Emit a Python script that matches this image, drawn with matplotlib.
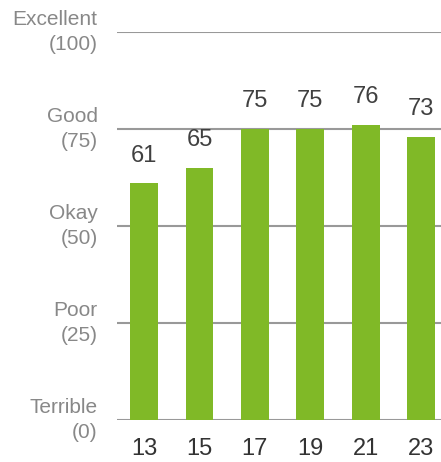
import matplotlib
matplotlib.use("Agg")
import matplotlib.pyplot as plt

# Ratings by period
periods = ["13", "15", "17", "19", "21", "23"]
scores = [61, 65, 75, 75, 76, 73]
scale_ticks = [0, 25, 50, 75, 100]
scale_labels = ["Terrible\n(0)", "Poor\n(25)", "Okay\n(50)", "Good\n(75)", "Excellent\n(100)"]

plt.rcParams["font.family"] = ["Liberation Sans", "DejaVu Sans"]

fig = plt.figure(figsize=(4.41, 4.62), dpi=100)
ax = fig.add_axes([117 / 441, 42 / 462, 324 / 441, 388 / 462])

x = list(range(len(periods)))
ax.bar(x, scores, width=0.5, color="#80b927", zorder=3)

# value labels above each bar
for xi, val in zip(x, scores):
    ax.annotate(str(val), (xi, val), xytext=(0, 12), textcoords="offset points",
                ha="center", va="bottom", fontsize=17, color="#404040")

ax.set_xlim(-0.49, 5.36)
ax.set_ylim(0, 100)
ax.set_yticks(scale_ticks)
ax.set_yticklabels(scale_labels, fontsize=15, color="#888888", linespacing=1.42, va="center")
ax.set_xticks(x)
ax.set_xticklabels(periods, fontsize=17, color="#333333")
ax.tick_params(axis="y", length=0, pad=14)
ax.tick_params(axis="x", length=0, pad=13)

ax.grid(axis="y", color="#999999", linewidth=1.5, zorder=0)
for side in ["top", "right", "left", "bottom"]:
    ax.spines[side].set_visible(False)

fig.savefig("out.png", dpi=100)
